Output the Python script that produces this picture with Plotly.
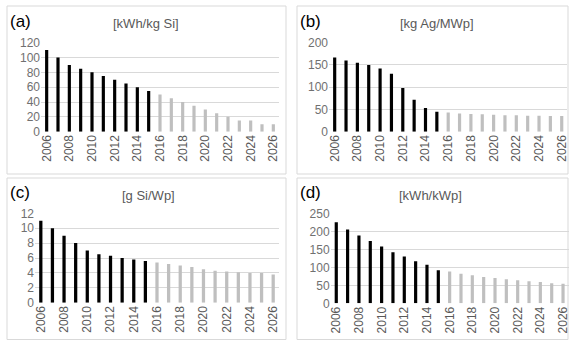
import plotly.graph_objects as go

W, H = 569, 340

years = list(range(2006, 2027))
tick_years = list(range(2006, 2027, 2))

kwh_per_kg_si = [110, 100, 90, 85, 80, 75, 70, 65, 60, 55, 50, 45, 40, 35, 30, 25, 20, 15, 15, 10, 10]
kg_ag_per_mwp = [167, 160, 155, 150, 142, 130, 98, 72, 53, 45, 43, 41, 40, 39, 38, 37, 37, 36, 36, 35, 35]
g_si_per_wp = [11, 10, 9, 8, 7, 6.5, 6.3, 6.0, 5.8, 5.6, 5.4, 5.2, 5.0, 4.8, 4.5, 4.3, 4.2, 4.1, 4.0, 4.0, 3.8]
kwh_per_kwp = [225, 205, 188, 173, 158, 142, 130, 117, 107, 92, 88, 82, 78, 73, 70, 67, 64, 61, 59, 56, 54]

panel_letters = ["(a)", "(b)", "(c)", "(d)"]
panel_units = ["[kWh/kg Si]", "[kg Ag/MWp]", "[g Si/Wp]", "[kWh/kWp]"]
y_max = [120, 200, 12, 250]
y_step = [20, 50, 2, 50]
series = [kwh_per_kg_si, kg_ag_per_mwp, g_si_per_wp, kwh_per_kwp]

HIST_END = 2015
colors = ["#000000" if y <= HIST_END else "#bfbfbf" for y in years]

# plot areas in pixels: (x0, x1, ytop, ybottom)
areas = [
    (41, 279, 42.7, 131.7),
    (329, 567.4, 42.7, 131.7),
    (35, 279, 213.3, 302.7),
    (330.6, 568.7, 213.3, 303.3),
]
# panel frames in pixels: (x0, y0, x1, y1)
frames = [
    (7, 6, 286, 174),
    (297, 6, 568, 174),
    (7, 178, 286, 339.5),
    (297, 178, 568, 339.5),
]
title_pos = [(146, 24), (437, 24), (148, 195), (430, 195)]
letter_pos = [(8, 22), (298, 22), (8, 192), (298, 192)]

fig = go.Figure()
layout = dict(
    width=W, height=H, margin=dict(l=0, r=0, t=0, b=0, pad=0, autoexpand=False),
    paper_bgcolor="white", plot_bgcolor="white",
    showlegend=False, bargap=0.72,
    font=dict(family="Liberation Sans, Arial, sans-serif", color="#595959"),
)
shapes = []
annotations = []

for i in range(4):
    n = "" if i == 0 else str(i + 1)
    fig.add_trace(go.Bar(
        x=years, y=series[i], marker=dict(color=colors, line=dict(width=0)),
        xaxis="x" + n, yaxis="y" + n, hoverinfo="x+y",
    ))
    x0, x1, yt, yb = areas[i]
    layout["xaxis" + n] = dict(
        domain=[x0 / W, x1 / W], anchor="y" + n, automargin=False,
        range=[2005.5, 2026.5], tickmode="array", tickvals=tick_years,
        ticktext=[str(t) for t in tick_years], tickangle=-90,
        tickfont=dict(size=12, color="#595959"), ticklabeloverflow="allow",
        showgrid=False, zeroline=False, showline=False, ticks="",
    )
    layout["yaxis" + n] = dict(
        domain=[1 - yb / H, 1 - yt / H], anchor="x" + n, automargin=False,
        range=[0, y_max[i]], dtick=y_step[i],
        tickfont=dict(size=12, color="#707070"),
        showgrid=True, gridcolor="#d9d9d9", gridwidth=1,
        zeroline=False, showline=False, ticks="",
    )
    fx0, fy0, fx1, fy1 = frames[i]
    shapes.append(dict(
        type="rect", xref="paper", yref="paper",
        x0=fx0 / W, x1=fx1 / W, y0=1 - fy1 / H, y1=1 - fy0 / H,
        line=dict(color="#d9d9d9", width=1), layer="below",
    ))
    tx, ty = title_pos[i]
    annotations.append(dict(
        text=panel_units[i], xref="paper", yref="paper",
        x=tx / W, y=1 - ty / H, xanchor="center", yanchor="middle",
        showarrow=False, font=dict(size=13, color="#595959"),
    ))
    lx, ly = letter_pos[i]
    annotations.append(dict(
        text=panel_letters[i], xref="paper", yref="paper",
        x=lx / W, y=1 - ly / H, xanchor="left", yanchor="middle",
        showarrow=False, font=dict(size=17, color="#000000"),
    ))

layout["shapes"] = shapes
layout["annotations"] = annotations
fig.update_layout(**layout)
fig.write_html(
    "out.html",
    config={"displayModeBar": False},
    post_script="document.body.style.margin='0px';document.body.style.overflow='hidden';",
)
